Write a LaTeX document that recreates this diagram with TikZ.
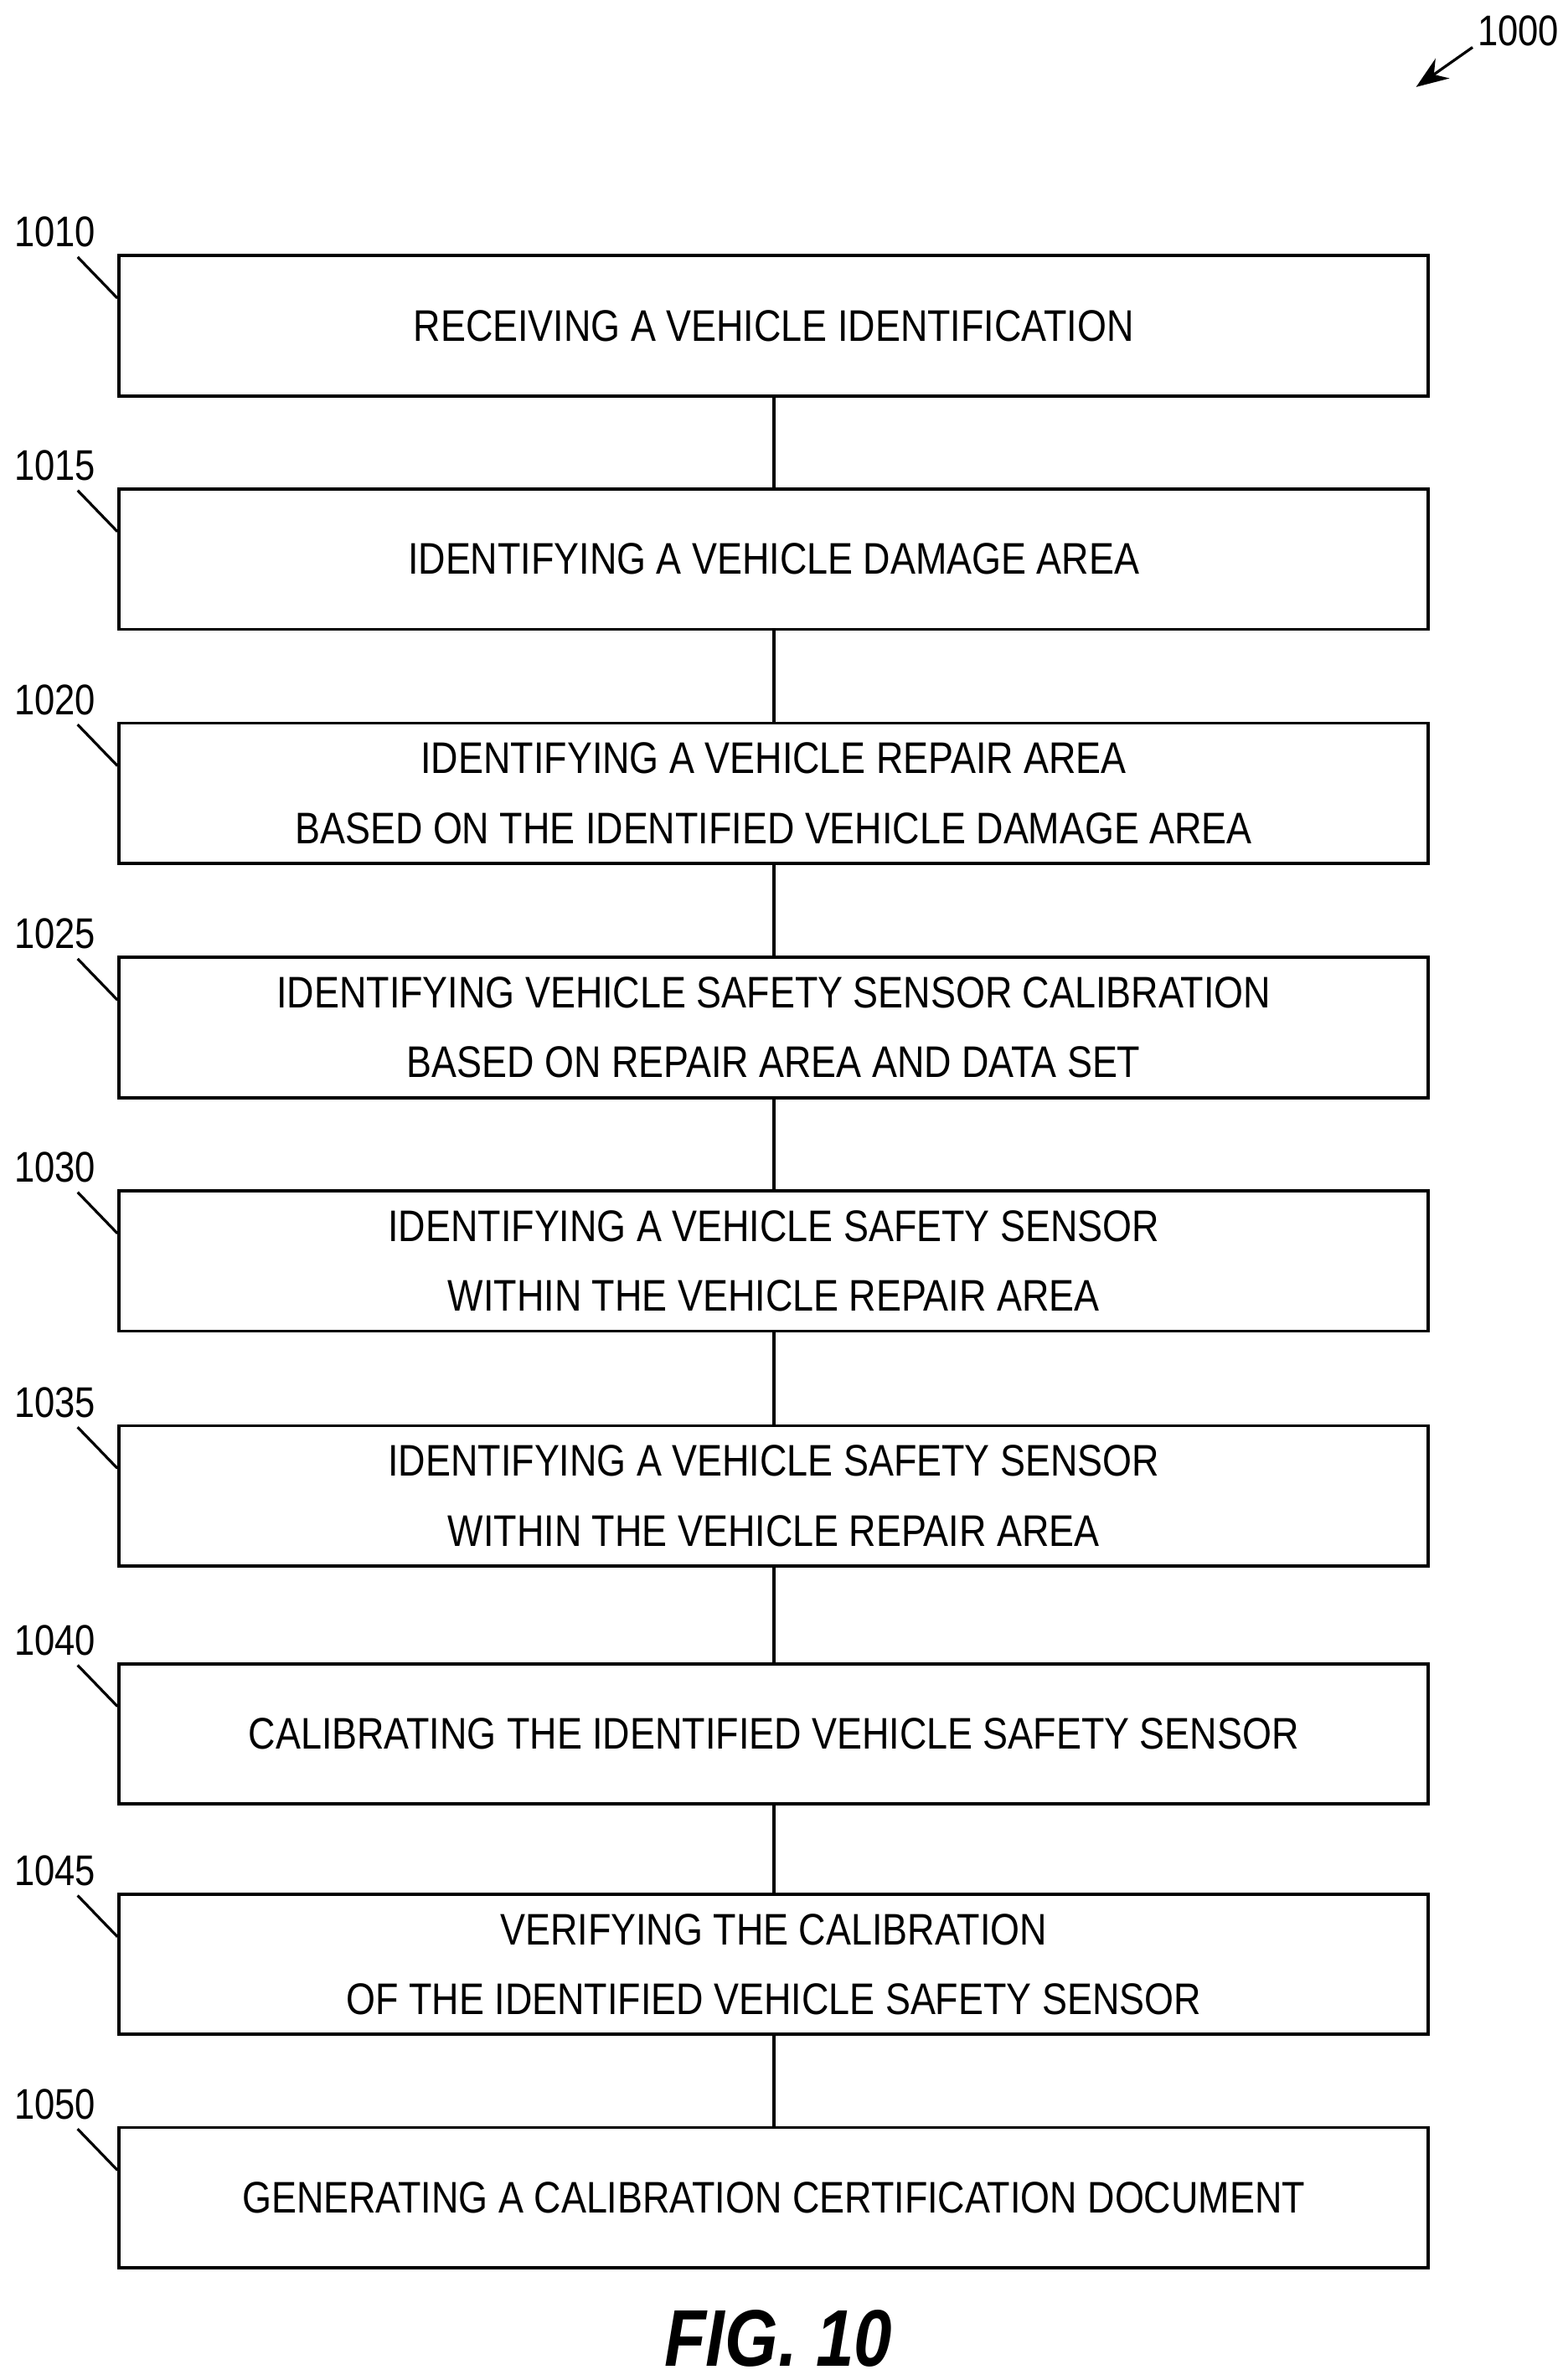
\documentclass[tikz,border=0pt]{standalone}
\usepackage{fontspec}
\setmainfont{Liberation Sans}[FakeStretch=0.85]
\usetikzlibrary{arrows.meta}
\begin{document}
\begin{tikzpicture}[x=0.02cm,y=-0.02cm,
  box/.style={draw,line width=1.2pt,minimum width=858*0.02cm,minimum height=92*0.02cm,inner sep=0pt,align=center,font=\fontsize{16.5}{26}\selectfont},
  lab/.style={font=\fontsize{16}{18}\selectfont,inner sep=0pt},
  ld/.style={line width=1pt},
  con/.style={line width=1.2pt}]
\useasboundingbox (0,0) rectangle (1024,1560);
\node[box] (b1) at (507,213.5) {RECEIVING A VEHICLE IDENTIFICATION};
\node[box] (b2) at (507,366.5) {IDENTIFYING A VEHICLE DAMAGE AREA};
\node[box] (b3) at (507,520) {IDENTIFYING A VEHICLE REPAIR AREA\\BASED ON THE IDENTIFIED VEHICLE DAMAGE AREA};
\node[box] (b4) at (507,673.5) {IDENTIFYING VEHICLE SAFETY SENSOR CALIBRATION\\BASED ON REPAIR AREA AND DATA SET};
\node[box] (b5) at (507,826.5) {IDENTIFYING A VEHICLE SAFETY SENSOR\\WITHIN THE VEHICLE REPAIR AREA};
\node[box] (b6) at (507,980.5) {IDENTIFYING A VEHICLE SAFETY SENSOR\\WITHIN THE VEHICLE REPAIR AREA};
\node[box] (b7) at (507,1136.5) {CALIBRATING THE IDENTIFIED VEHICLE SAFETY SENSOR};
\node[box] (b8) at (507,1287.5) {VERIFYING THE CALIBRATION\\OF THE IDENTIFIED VEHICLE SAFETY SENSOR};
\node[box] (b9) at (507,1440.5) {GENERATING A CALIBRATION CERTIFICATION DOCUMENT};
\foreach \a/\b in {b1/b2,b2/b3,b3/b4,b4/b5,b5/b6,b6/b7,b7/b8,b8/b9} \draw[con] (\a.south) -- (\b.north);
\foreach \n/\t in {b1/1010,b2/1015,b3/1020,b4/1025,b5/1030,b6/1035,b7/1040,b8/1045,b9/1050}{
  \node[lab] (l\n) at ([xshift=-41*0.02cm,yshift=4*0.02cm]\n.north west) [anchor=south] {\t};
  \coordinate (c\n) at ([yshift=-29*0.02cm]\n.north west);
  \draw[ld] ([xshift=-12*0.02cm,yshift=-6*0.02cm]l\n.south east) -- (c\n);
}
\node[lab] (n1000) at (995,20) {1000};
\coordinate (a1000) at (928,57);
\draw[ld,-{Stealth[length=12pt,width=9pt]}] (965,31) -- (a1000);
\node[font=\fontsize{30}{34}\selectfont\bfseries\itshape] (fig) at (510,1533) {FIG. 10};
\end{tikzpicture}
\end{document}
